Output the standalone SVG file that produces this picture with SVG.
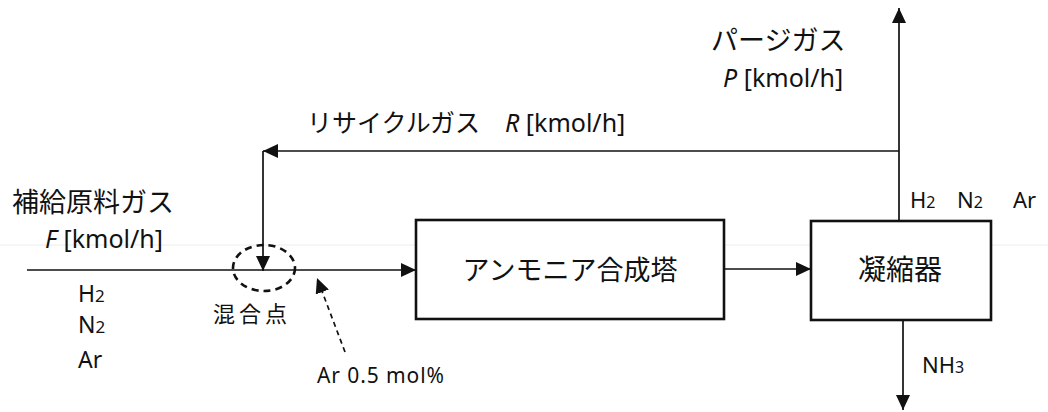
<svg xmlns="http://www.w3.org/2000/svg" width="1048" height="412" viewBox="0 0 1048 412">
<style>
.jp{font-family:"Noto Sans CJK JP","Noto Sans",sans-serif;fill:#111}
.lt{font-family:"Noto Sans","Noto Sans CJK JP",sans-serif;fill:#111}
.ln{stroke:#111;stroke-width:1.7;fill:none}
.box{stroke:#111;stroke-width:2.6;fill:#fff}
</style>
<defs>
<marker id="ah" markerWidth="15" markerHeight="14" refX="15" refY="7" orient="auto" markerUnits="userSpaceOnUse">
<path d="M0,0 L15,7 L0,14 z" fill="#111"/>
</marker>
</defs>
<rect width="1048" height="412" fill="#fff"/>
<line x1="0" y1="245" x2="1048" y2="245" stroke="#ececec" stroke-width="1"/>
<g id="connectors">
<line class="ln" x1="27" y1="270" x2="416" y2="270" marker-end="url(#ah)"/>
<line class="ln" x1="899" y1="221" x2="899" y2="8" marker-end="url(#ah)"/>
<line class="ln" x1="899" y1="151" x2="263" y2="151" marker-end="url(#ah)"/>
<line class="ln" x1="263" y1="151" x2="263" y2="271" marker-end="url(#ah)"/>
<line class="ln" x1="724" y1="269" x2="811" y2="269" marker-end="url(#ah)"/>
<line class="ln" x1="903" y1="320" x2="903" y2="410" marker-end="url(#ah)"/>
<line class="ln" x1="345" y1="352" x2="317" y2="278" stroke-dasharray="5,4" marker-end="url(#ah)"/>
</g>
<g id="mixing-point">
<ellipse cx="264" cy="268" rx="31" ry="23" fill="none" stroke="#111" stroke-width="2.6" stroke-dasharray="7,5"/>
<text class="jp" x="213" y="322" font-size="22" letter-spacing="4">混合点</text>
</g>
<g id="reactor">
<rect class="box" x="416" y="220" width="308" height="99"/>
<text class="jp" x="570" y="280" font-size="27" text-anchor="middle">アンモニア合成塔</text>
</g>
<g id="condenser">
<rect class="box" x="811" y="221" width="180" height="99"/>
<text class="jp" x="900" y="280" font-size="28" text-anchor="middle">凝縮器</text>
</g>
<g id="feed-label">
<text class="jp" x="12" y="212" font-size="27">補給原料ガス</text>
<text class="lt" x="45" y="248" font-size="25"><tspan font-style="italic">F</tspan> [kmol/h]</text>
<text class="lt" x="78" y="302" font-size="23">H<tspan font-size="17">2</tspan></text>
<text class="lt" x="78" y="333" font-size="23">N<tspan font-size="17">2</tspan></text>
<text class="lt" x="78" y="368" font-size="23">Ar</text>
</g>
<g id="purge-label">
<text class="jp" x="711" y="50" font-size="27">パージガス</text>
<text class="lt" x="723" y="87" font-size="25"><tspan font-style="italic">P</tspan> [kmol/h]</text>
</g>
<g id="recycle-label">
<text class="jp" x="307" y="132" font-size="25">リサイクルガス</text>
<text class="lt" x="505" y="132" font-size="25"><tspan font-style="italic">R</tspan> [kmol/h]</text>
</g>
<g id="condenser-top-label">
<text class="lt" x="910" y="208" font-size="22">H<tspan font-size="16">2</tspan></text>
<text class="lt" x="957" y="208" font-size="22">N<tspan font-size="16">2</tspan></text>
<text class="lt" x="1013" y="208" font-size="22">Ar</text>
</g>
<g id="nh3-label">
<text class="lt" x="922" y="373" font-size="22">NH<tspan font-size="16">3</tspan></text>
</g>
<g id="ar-note">
<text class="lt" x="317" y="383" font-size="21" textLength="127" lengthAdjust="spacing">Ar 0.5 mol%</text>
</g>
</svg>
